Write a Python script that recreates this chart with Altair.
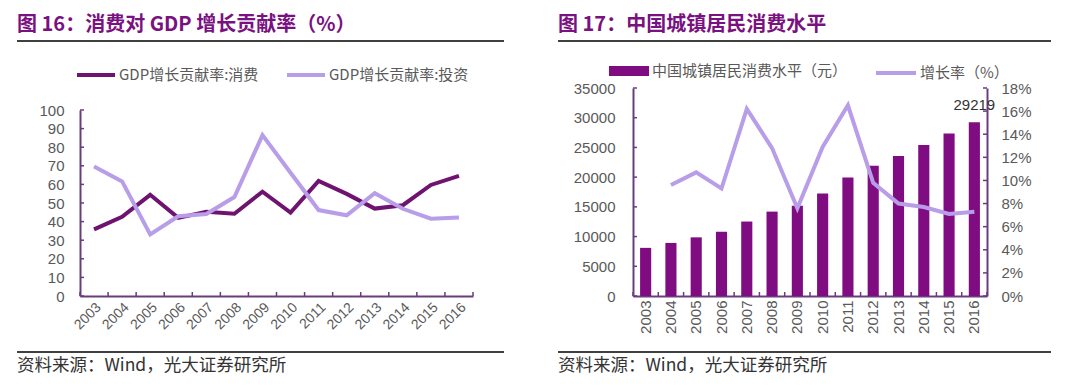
import altair as alt
import pandas as pd

# ---------------- data ----------------
years = [str(y) for y in range(2003, 2017)]

series_names = ["GDP增长贡献率:消费", "GDP增长贡献率:投资"]
consumption = [35.8, 42.6, 54.4, 42.0, 45.3, 44.2, 56.1, 44.9, 61.9, 54.9, 47.0, 48.8, 59.7, 64.6]
investment = [69.6, 61.6, 33.1, 42.9, 44.1, 53.2, 86.5, 66.3, 46.2, 43.4, 55.3, 46.9, 41.6, 42.2]
left_ticks = list(range(0, 101, 10))

bar_name = "中国城镇居民消费水平（元）"
line_name = "增长率（%）"
spend = [8100, 8930, 9870, 10810, 12530, 14200, 15190, 17240, 19960, 21910, 23570, 25400, 27330, 29219]
growth_years = years[1:]
growth = [9.6, 10.7, 9.3, 16.2, 12.8, 7.6, 12.9, 16.5, 9.8, 8.0, 7.7, 7.1, 7.3]
label_year = "2016"
spend_ticks = list(range(0, 35001, 5000))
growth_ticks = list(range(0, 19, 2))

title_left = "图 16：消费对 GDP 增长贡献率（%）"
title_right = "图 17：中国城镇居民消费水平"
source_text = "资料来源：Wind，光大证券研究所"

# ---------------- styles ----------------
FONT = "Liberation Sans"
CJK = "Noto Sans CJK SC"
TITLE_C = "#7A1181"
DARK = "#6F1370"
LIGHT = "#B89DE8"
BAR = "#7F0D81"
AXIS_C = "#6A3C7C"
LABEL_C = "#595959"
TICK_LEN = 4

axis_common = dict(
    domainColor=AXIS_C, domainWidth=2, ticks=False,
    labelFont=FONT, labelColor=LABEL_C, grid=False, title=None,
)


def decorations(x0, x1, title):
    t = alt.Chart(pd.DataFrame({"t": [title]})).mark_text(
        align="left", baseline="middle", font=CJK, fontSize=20, fontWeight="bold", color=TITLE_C
    ).encode(text="t:N", x=alt.value(x0), y=alt.value(-63))
    r1 = alt.Chart(pd.DataFrame({"a": [0]})).mark_rule(color="black", strokeWidth=1.5).encode(
        x=alt.value(x0), x2=alt.value(x1), y=alt.value(-47))
    r2 = alt.Chart(pd.DataFrame({"a": [0]})).mark_rule(color="black", strokeWidth=1.5).encode(
        x=alt.value(x0), x2=alt.value(x1), y=alt.value(264))
    f = alt.Chart(pd.DataFrame({"t": [source_text]})).mark_text(
        align="left", baseline="middle", font=CJK, fontSize=17.5, color="#333333"
    ).encode(text="t:N", x=alt.value(x0), y=alt.value(278))
    return [t, r1, r2, f]


def x_inside_ticks(scale, axis, height):
    """Inside ticks at band boundaries, positioned through the band scale."""
    df = pd.DataFrame({"year": years})
    starts = alt.Chart(df).mark_rule(color=AXIS_C, strokeWidth=1.5).encode(
        x=alt.X("year:N", sort=years, scale=scale, axis=axis, bandPosition=0),
        y=alt.value(height), y2=alt.value(height - TICK_LEN))
    end = alt.Chart(pd.DataFrame({"year": [years[-1]]})).mark_rule(color=AXIS_C, strokeWidth=1.5).encode(
        x=alt.X("year:N", sort=years, scale=scale, axis=axis, bandPosition=1),
        y=alt.value(height), y2=alt.value(height - TICK_LEN))
    return [starts, end]


def y_inside_ticks(values, field, scale, axis, x_edge, direction):
    df = pd.DataFrame({field: values})
    return alt.Chart(df).mark_rule(color=AXIS_C, strokeWidth=1.5).encode(
        y=alt.Y(f"{field}:Q", scale=scale, axis=axis),
        x=alt.value(x_edge), x2=alt.value(x_edge + direction * TICK_LEN))


# ---------------- left chart ----------------
left_df = pd.DataFrame({
    "year": years * 2,
    "value": consumption + investment,
    "series": [series_names[0]] * len(years) + [series_names[1]] * len(years),
})

xL_scale = alt.Scale(type="band", domain=years, paddingInner=0, paddingOuter=0)
xL_axis = alt.Axis(labelAngle=-45, labelPadding=4, labelFontSize=14, **axis_common)
yL_scale = alt.Scale(domain=[0, 100], nice=False, range=[208, 22])
yL_axis = alt.Axis(values=left_ticks, labelPadding=16, labelFontSize=15, **axis_common)

lines = alt.Chart(left_df).mark_line(strokeWidth=4).encode(
    x=alt.X("year:N", sort=years, bandPosition=0.5, scale=xL_scale, axis=xL_axis),
    y=alt.Y("value:Q", scale=yL_scale, axis=yL_axis),
    color=alt.Color("series:N", sort=series_names,
                    scale=alt.Scale(domain=series_names, range=[DARK, LIGHT]),
                    legend=alt.Legend(orient="none", legendX=-5, legendY=-34, offset=0,
                                      direction="horizontal",
                                      title=None, symbolType="stroke", symbolSize=1444,
                                      symbolStrokeWidth=4, labelFont=CJK, labelFontSize=15,
                                      labelColor=LABEL_C, columnPadding=20, labelOffset=2,
                                      padding=0, labelLimit=400)),
)

left = alt.layer(
    lines,
    y_inside_ticks(left_ticks, "value", yL_scale, yL_axis, 0, 1),
    *x_inside_ticks(xL_scale, xL_axis, 208),
    *decorations(-63, 424, title_left),
).properties(width=393, height=208)

# ---------------- right chart ----------------
right_df = pd.DataFrame({"year": years, "spend": spend, "name": [bar_name] * len(years)})
growth_df = pd.DataFrame({"year": growth_years, "growth": growth, "name": [line_name] * len(growth_years)})

xR_scale = alt.Scale(type="band", domain=years, paddingInner=0, paddingOuter=0)
xR_axis = alt.Axis(labelAngle=-90, labelPadding=4, labelFontSize=15, **axis_common)
spend_scale = alt.Scale(domain=[0, 35000], nice=False)
spend_axis = alt.Axis(values=spend_ticks, format="d", labelPadding=18, labelFontSize=15, **axis_common)
growth_scale = alt.Scale(domain=[0, 18], nice=False)
growth_axis = alt.Axis(orient="right", values=growth_ticks, labelExpr="datum.value + '%'",
                       labelPadding=14, labelFontSize=15, **axis_common)

bars = alt.Chart(right_df).mark_bar(width=alt.RelativeBandSize(0.44)).encode(
    x=alt.X("year:N", sort=years, scale=xR_scale, axis=xR_axis),
    y=alt.Y("spend:Q", scale=spend_scale, axis=spend_axis),
    fill=alt.Fill("name:N", scale=alt.Scale(domain=[bar_name], range=[BAR]),
                  legend=alt.Legend(orient="none", legendX=-24, legendY=-37, offset=0, title=None,
                                    symbolType="M-1,-0.25H1V0.25H-1Z", symbolSize=1600,
                                    symbolStrokeWidth=0, labelFont=CJK, labelFontSize=15,
                                    labelColor=LABEL_C, labelOffset=3, padding=0, labelLimit=400)),
)

label = alt.Chart(right_df).transform_filter(alt.datum.year == label_year).mark_text(
    baseline="alphabetic", dy=-12, font=FONT, fontSize=15, color="#333333"
).encode(
    x=alt.X("year:N", sort=years, scale=xR_scale, axis=xR_axis, bandPosition=0.5),
    y=alt.Y("spend:Q", scale=spend_scale, axis=spend_axis),
    text=alt.Text("spend:Q", format="d"),
)

gline = alt.Chart(growth_df).mark_line(strokeWidth=4).encode(
    x=alt.X("year:N", sort=years, scale=xR_scale, axis=xR_axis, bandPosition=0.5),
    y=alt.Y("growth:Q", scale=growth_scale, axis=growth_axis),
    stroke=alt.Stroke("name:N", scale=alt.Scale(domain=[line_name], range=[LIGHT]),
                      legend=alt.Legend(orient="none", legendX=241, legendY=-37, offset=0, title=None,
                                        symbolType="stroke", symbolSize=1600, symbolStrokeWidth=4,
                                        labelFont=CJK, labelFontSize=15, labelColor=LABEL_C,
                                        labelOffset=2, padding=0, labelLimit=400)),
)

right = alt.layer(
    alt.layer(bars, label,
              y_inside_ticks(spend_ticks, "spend", spend_scale, spend_axis, 0, 1),
              *x_inside_ticks(xR_scale, xR_axis, 208),
              *decorations(-75, 418, title_right)),
    alt.layer(gline, y_inside_ticks(growth_ticks, "growth", growth_scale, growth_axis, 354, -1)),
).resolve_scale(y="independent", fill="independent", stroke="independent").properties(width=354, height=208)

chart = alt.hconcat(left, right, spacing=52).properties(
    padding={"left": 8, "top": 7, "right": 5, "bottom": 2}
).configure_view(stroke=None)

chart.save("out.html", embed_options={"renderer": "svg", "actions": False})
